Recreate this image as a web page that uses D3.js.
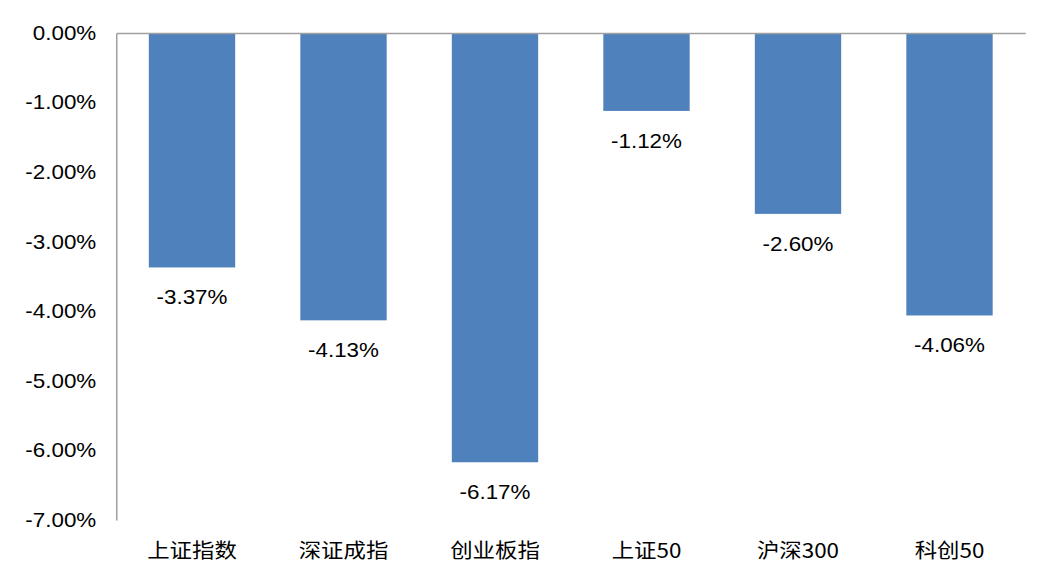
<!DOCTYPE html>
<html><head><meta charset="utf-8">
<script src="https://d3js.org/d3.v7.min.js"></script>
<style>body{margin:0;background:#fff}svg{display:block}</style>
</head><body>
<svg id="c" width="1044" height="576"></svg>
<script>
const categories = ["上证指数","深证成指","创业板指","上证50","沪深300","科创50"];
const values = [-3.37,-4.13,-6.17,-1.12,-2.60,-4.06];
const yTicks = [0,-1,-2,-3,-4,-5,-6,-7];

(function(){
const svg = d3.select("#c");
const pLeft = 116.25, pRight = 1025.25, pTop = 33, pBottom = 520;
const x = d3.scaleBand().domain(categories).range([pLeft,pRight]).paddingInner(0.43).paddingOuter(0.215);
const y = d3.scaleLinear().domain([0,-7]).range([pTop,pBottom]);
const font = "'Liberation Sans', Arial, 'Noto Sans CJK SC', sans-serif";
const sx = 1.12;
const pct = d=>d3.format(".2f")(d).replace("\u2212","-")+"%";

svg.selectAll("rect.bar").data(values).enter().append("rect")
  .attr("class","bar")
  .attr("x",(d,i)=>x(categories[i]))
  .attr("width",x.bandwidth())
  .attr("y",y(0))
  .attr("height",d=>y(d)-y(0))
  .attr("fill","#4f81bd");

const yAxis = d3.axisLeft(y).tickValues(yTicks).tickSize(0).tickPadding(0).tickFormat(pct);
const gy = svg.append("g").attr("transform",`translate(${pLeft},0)`).call(yAxis);
gy.select(".domain").attr("stroke","#a0a0a0").attr("stroke-width",1.5);
gy.selectAll(".tick text")
  .attr("x",null)
  .attr("transform",`translate(-20,0) scale(${sx},1)`)
  .attr("font-family",font).attr("font-size",20).attr("fill","#000");

const xAxis = d3.axisTop(x).tickSize(0).tickFormat("");
const gx = svg.append("g").attr("transform",`translate(0,${pTop})`).call(xAxis);
gx.select(".domain").attr("stroke","#a0a0a0").attr("stroke-width",1.5);

svg.selectAll("text.cat").data(categories).enter().append("text")
  .attr("class","cat")
  .attr("transform",d=>`translate(${x(d)+x.bandwidth()/2},558) scale(${sx},1)`)
  .attr("text-anchor","middle")
  .attr("font-family","'Noto Sans CJK SC', 'Liberation Sans', sans-serif")
  .attr("font-size",20).attr("fill","#000")
  .text(d=>d);

svg.selectAll("text.val").data(values).enter().append("text")
  .attr("class","val")
  .attr("transform",(d,i)=>`translate(${x(categories[i])+x.bandwidth()/2},${y(d)+37}) scale(${sx},1)`)
  .attr("text-anchor","middle")
  .attr("font-family",font)
  .attr("font-size",20).attr("fill","#000")
  .text(pct);
})();
</script>
</body></html>
